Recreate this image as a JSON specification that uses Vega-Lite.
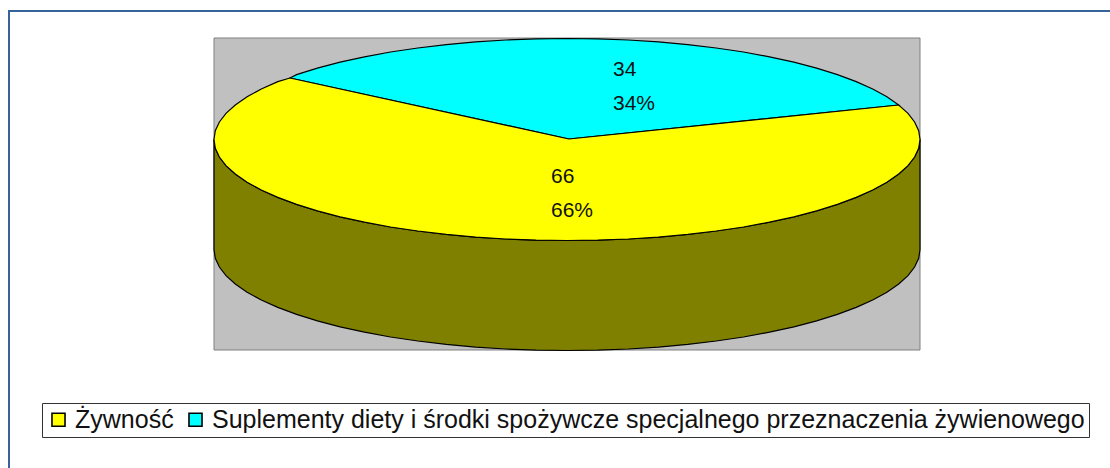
{"$schema":"https://vega.github.io/schema/vega-lite/v6.json","width":1110,"height":468,"padding":0,"autosize":{"type":"none"},"background":"white","view":{"stroke":null},"config":{"font":"Liberation Sans"},
"datasets":{
"frames":[{"name":"frame","x":9,"x2":1135,"y":11,"y2":490}],
"plot":[{"name":"plot","x":214,"x2":920,"y":38,"y2":350}],
"side":[{"x":214,"y":139.5,"y2":249.5},{"x":215.3,"y":148.3,"y2":258.3},{"x":219.4,"y":157,"y2":267},{"x":226,"y":165.6,"y2":275.6},{"x":235.3,"y":174,"y2":284},{"x":247.1,"y":182.2,"y2":292.2},{"x":261.3,"y":190,"y2":300},{"x":277.8,"y":197.4,"y2":307.4},{"x":296.6,"y":204.4,"y2":314.4},{"x":317.4,"y":210.9,"y2":320.9},{"x":340.1,"y":216.9,"y2":326.9},{"x":364.5,"y":222.2,"y2":332.2},{"x":390.5,"y":227,"y2":337},{"x":417.8,"y":231,"y2":341},{"x":446.3,"y":234.4,"y2":344.4},{"x":475.6,"y":237.1,"y2":347.1},{"x":505.7,"y":239,"y2":349},{"x":536.2,"y":240.1,"y2":350.1},{"x":567,"y":240.5,"y2":350.5},{"x":597.8,"y":240.1,"y2":350.1},{"x":628.3,"y":239,"y2":349},{"x":658.4,"y":237.1,"y2":347.1},{"x":687.7,"y":234.4,"y2":344.4},{"x":716.2,"y":231,"y2":341},{"x":743.5,"y":227,"y2":337},{"x":769.5,"y":222.2,"y2":332.2},{"x":793.9,"y":216.9,"y2":326.9},{"x":816.6,"y":210.9,"y2":320.9},{"x":837.4,"y":204.4,"y2":314.4},{"x":856.2,"y":197.4,"y2":307.4},{"x":872.7,"y":190,"y2":300},{"x":886.9,"y":182.2,"y2":292.2},{"x":898.7,"y":174,"y2":284},{"x":908,"y":165.6,"y2":275.6},{"x":914.6,"y":157,"y2":267},{"x":918.7,"y":148.3,"y2":258.3},{"x":920,"y":139.5,"y2":249.5}],
"slices":[
{"s":"Suplementy diety i środki spożywcze specjalnego przeznaczenia żywienowego","i":0,"x":569,"y":139},{"s":"Suplementy diety i środki spożywcze specjalnego przeznaczenia żywienowego","i":1,"x":898.7,"y":105},{"s":"Suplementy diety i środki spożywcze specjalnego przeznaczenia żywienowego","i":2,"x":886.9,"y":96.8},{"s":"Suplementy diety i środki spożywcze specjalnego przeznaczenia żywienowego","i":3,"x":872.7,"y":89},{"s":"Suplementy diety i środki spożywcze specjalnego przeznaczenia żywienowego","i":4,"x":856.2,"y":81.6},{"s":"Suplementy diety i środki spożywcze specjalnego przeznaczenia żywienowego","i":5,"x":837.4,"y":74.6},{"s":"Suplementy diety i środki spożywcze specjalnego przeznaczenia żywienowego","i":6,"x":816.6,"y":68.1},{"s":"Suplementy diety i środki spożywcze specjalnego przeznaczenia żywienowego","i":7,"x":793.9,"y":62.1},{"s":"Suplementy diety i środki spożywcze specjalnego przeznaczenia żywienowego","i":8,"x":769.5,"y":56.8},{"s":"Suplementy diety i środki spożywcze specjalnego przeznaczenia żywienowego","i":9,"x":743.5,"y":52},{"s":"Suplementy diety i środki spożywcze specjalnego przeznaczenia żywienowego","i":10,"x":716.2,"y":48},{"s":"Suplementy diety i środki spożywcze specjalnego przeznaczenia żywienowego","i":11,"x":687.7,"y":44.6},{"s":"Suplementy diety i środki spożywcze specjalnego przeznaczenia żywienowego","i":12,"x":658.4,"y":41.9},{"s":"Suplementy diety i środki spożywcze specjalnego przeznaczenia żywienowego","i":13,"x":628.3,"y":40},{"s":"Suplementy diety i środki spożywcze specjalnego przeznaczenia żywienowego","i":14,"x":597.8,"y":38.9},{"s":"Suplementy diety i środki spożywcze specjalnego przeznaczenia żywienowego","i":15,"x":567,"y":38.5},{"s":"Suplementy diety i środki spożywcze specjalnego przeznaczenia żywienowego","i":16,"x":536.2,"y":38.9},{"s":"Suplementy diety i środki spożywcze specjalnego przeznaczenia żywienowego","i":17,"x":505.7,"y":40},{"s":"Suplementy diety i środki spożywcze specjalnego przeznaczenia żywienowego","i":18,"x":475.6,"y":41.9},{"s":"Suplementy diety i środki spożywcze specjalnego przeznaczenia żywienowego","i":19,"x":446.3,"y":44.6},{"s":"Suplementy diety i środki spożywcze specjalnego przeznaczenia żywienowego","i":20,"x":417.8,"y":48},{"s":"Suplementy diety i środki spożywcze specjalnego przeznaczenia żywienowego","i":21,"x":390.5,"y":52},{"s":"Suplementy diety i środki spożywcze specjalnego przeznaczenia żywienowego","i":22,"x":364.5,"y":56.8},{"s":"Suplementy diety i środki spożywcze specjalnego przeznaczenia żywienowego","i":23,"x":340.1,"y":62.1},{"s":"Suplementy diety i środki spożywcze specjalnego przeznaczenia żywienowego","i":24,"x":317.4,"y":68.1},{"s":"Suplementy diety i środki spożywcze specjalnego przeznaczenia żywienowego","i":25,"x":296.6,"y":74.6},{"s":"Suplementy diety i środki spożywcze specjalnego przeznaczenia żywienowego","i":26,"x":290,"y":78},{"s":"Suplementy diety i środki spożywcze specjalnego przeznaczenia żywienowego","i":27,"x":569,"y":139},
{"s":"Żywność","i":0,"x":569,"y":139},{"s":"Żywność","i":1,"x":290,"y":78},{"s":"Żywność","i":2,"x":277.8,"y":81.6},{"s":"Żywność","i":3,"x":261.3,"y":89},{"s":"Żywność","i":4,"x":247.1,"y":96.8},{"s":"Żywność","i":5,"x":235.3,"y":105},{"s":"Żywność","i":6,"x":226,"y":113.4},{"s":"Żywność","i":7,"x":219.4,"y":122},{"s":"Żywność","i":8,"x":215.3,"y":130.7},{"s":"Żywność","i":9,"x":214,"y":139.5},{"s":"Żywność","i":10,"x":215.3,"y":148.3},{"s":"Żywność","i":11,"x":219.4,"y":157},{"s":"Żywność","i":12,"x":226,"y":165.6},{"s":"Żywność","i":13,"x":235.3,"y":174},{"s":"Żywność","i":14,"x":247.1,"y":182.2},{"s":"Żywność","i":15,"x":261.3,"y":190},{"s":"Żywność","i":16,"x":277.8,"y":197.4},{"s":"Żywność","i":17,"x":296.6,"y":204.4},{"s":"Żywność","i":18,"x":317.4,"y":210.9},{"s":"Żywność","i":19,"x":340.1,"y":216.9},{"s":"Żywność","i":20,"x":364.5,"y":222.2},{"s":"Żywność","i":21,"x":390.5,"y":227},{"s":"Żywność","i":22,"x":417.8,"y":231},{"s":"Żywność","i":23,"x":446.3,"y":234.4},{"s":"Żywność","i":24,"x":475.6,"y":237.1},{"s":"Żywność","i":25,"x":505.7,"y":239},{"s":"Żywność","i":26,"x":536.2,"y":240.1},{"s":"Żywność","i":27,"x":567,"y":240.5},{"s":"Żywność","i":28,"x":597.8,"y":240.1},{"s":"Żywność","i":29,"x":628.3,"y":239},{"s":"Żywność","i":30,"x":658.4,"y":237.1},{"s":"Żywność","i":31,"x":687.7,"y":234.4},{"s":"Żywność","i":32,"x":716.2,"y":231},{"s":"Żywność","i":33,"x":743.5,"y":227},{"s":"Żywność","i":34,"x":769.5,"y":222.2},{"s":"Żywność","i":35,"x":793.9,"y":216.9},{"s":"Żywność","i":36,"x":816.6,"y":210.9},{"s":"Żywność","i":37,"x":837.4,"y":204.4},{"s":"Żywność","i":38,"x":856.2,"y":197.4},{"s":"Żywność","i":39,"x":872.7,"y":190},{"s":"Żywność","i":40,"x":886.9,"y":182.2},{"s":"Żywność","i":41,"x":898.7,"y":174},{"s":"Żywność","i":42,"x":908,"y":165.6},{"s":"Żywność","i":43,"x":914.6,"y":157},{"s":"Żywność","i":44,"x":918.7,"y":148.3},{"s":"Żywność","i":45,"x":920,"y":139.5},{"s":"Żywność","i":46,"x":918.7,"y":130.7},{"s":"Żywność","i":47,"x":914.6,"y":122},{"s":"Żywność","i":48,"x":908,"y":113.4},{"s":"Żywność","i":49,"x":898.7,"y":105},{"s":"Żywność","i":50,"x":569,"y":139}],
"labels":[{"t":"34","x":613,"y":70},{"t":"34%","x":613,"y":104},{"t":"66","x":551,"y":177},{"t":"66%","x":551,"y":211}]},
"layer":[
{"data":{"name":"frames"},"mark":{"type":"rect","fill":null,"stroke":"#366398","strokeWidth":2,"clip":true},"encoding":{"x":{"field":"x","type":"quantitative","scale":{"domain":[0,1110],"nice":false,"zero":false},"axis":null},"x2":{"field":"x2"},"y":{"field":"y","type":"quantitative","scale":{"domain":[468,0],"nice":false,"zero":false},"axis":null},"y2":{"field":"y2"}}},
{"data":{"name":"plot"},"mark":{"type":"rect","fill":"#c0c0c0","stroke":"#808080","strokeWidth":1},"encoding":{"x":{"field":"x","type":"quantitative","axis":null},"x2":{"field":"x2"},"y":{"field":"y","type":"quantitative","axis":null},"y2":{"field":"y2"}}},
{"data":{"name":"side"},"mark":{"type":"area","fill":"#808000","stroke":"black","strokeWidth":1.2},"encoding":{"x":{"field":"x","type":"quantitative","axis":null},"y":{"field":"y","type":"quantitative","axis":null},"y2":{"field":"y2"}}},
{"data":{"name":"slices"},"mark":{"type":"line","stroke":"black","strokeWidth":1.2},"encoding":{"x":{"field":"x","type":"quantitative","axis":null},"y":{"field":"y","type":"quantitative","axis":null},"order":{"field":"i","type":"quantitative"},"fill":{"field":"s","type":"nominal","scale":{"domain":["Żywność","Suplementy diety i środki spożywcze specjalnego przeznaczenia żywienowego"],"range":["#ffff00","#00ffff"]},"legend":{"orient":"none","legendX":42,"legendY":403,"direction":"horizontal","title":null,"columns":2,"symbolType":"square","symbolSize":170,"symbolStrokeColor":"black","symbolStrokeWidth":1.6,"symbolOpacity":1,"labelFontSize":25,"labelFont":"Liberation Sans","labelColor":"#111111","labelLimit":1000,"columnPadding":9,"labelOffset":4,"padding":4,"strokeColor":"#333333","fillColor":"white"}}}},
{"data":{"name":"labels"},"mark":{"type":"text","align":"left","baseline":"middle","fontSize":21,"font":"Liberation Sans","color":"#111111"},"encoding":{"x":{"field":"x","type":"quantitative","axis":null},"y":{"field":"y","type":"quantitative","axis":null},"text":{"field":"t"}}}
]}
